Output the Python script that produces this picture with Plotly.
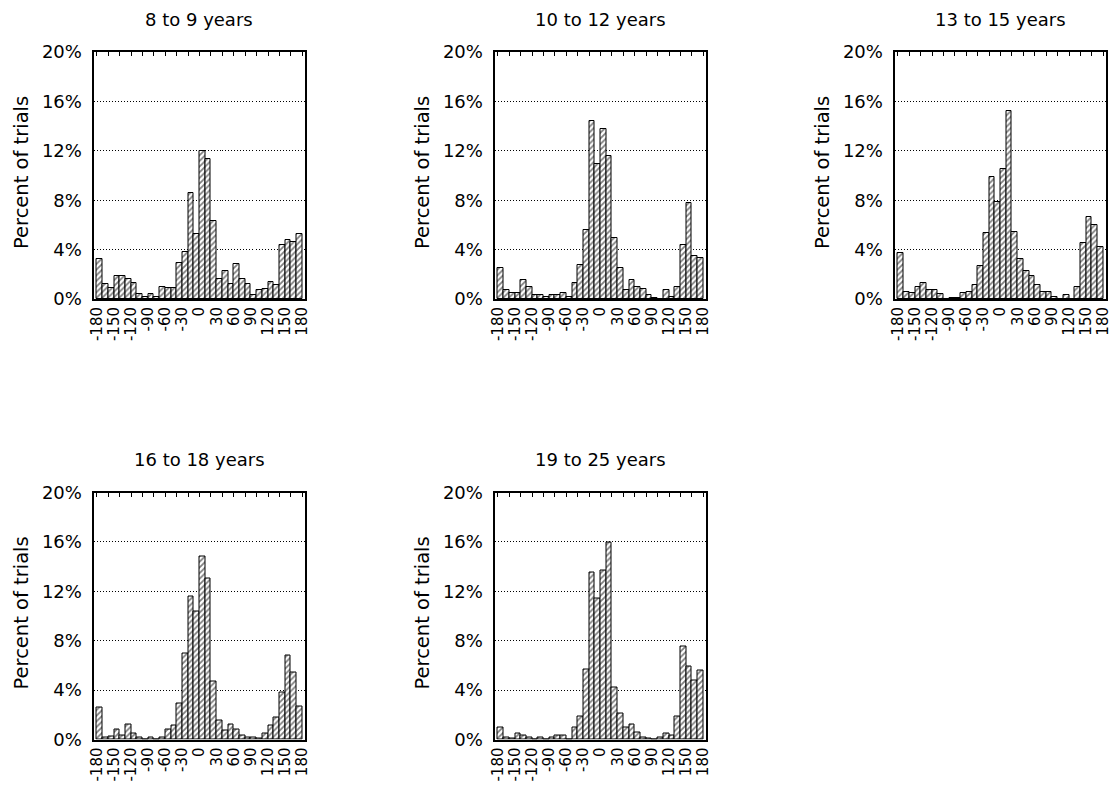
import plotly.graph_objects as go

# Bin centres (10-degree bins from -180 to 180)
bin_centers = [-175 + 10 * i for i in range(36)]
x_tick_vals = [-180, -150, -120, -90, -60, -30, 0, 30, 60, 90, 120, 150, 180]
y_tick_vals = [0, 4, 8, 12, 16, 20]
y_tick_text = ["0%", "4%", "8%", "12%", "16%", "20%"]
top_tick_vals = [-180 + 20 * i for i in range(19)]

panel_titles = ["8 to 9 years", "10 to 12 years", "13 to 15 years",
                "16 to 18 years", "19 to 25 years"]

age_8_9 = [3.2, 1.2, 0.9, 1.9, 1.9, 1.6, 1.3, 0.4, 0.15, 0.4, 0.2, 1.0,
           0.9, 0.9, 2.9, 3.8, 8.6, 5.3, 12.0, 11.35, 6.35, 1.6, 2.3, 1.2,
           2.8, 1.6, 1.2, 0.35, 0.7, 0.8, 1.4, 1.1, 4.4, 4.75, 4.65, 5.3]
age_10_12 = [2.5, 0.7, 0.45, 0.45, 1.5, 0.95, 0.3, 0.3, 0.2, 0.3, 0.3, 0.45,
             0.2, 1.3, 2.75, 5.55, 14.4, 10.95, 13.8, 11.6, 4.95, 2.5, 0.75, 1.5,
             1.0, 0.8, 0.3, 0.1, 0.0, 0.7, 0.2, 0.95, 4.35, 7.75, 3.5, 3.3]
age_13_15 = [3.75, 0.55, 0.45, 1.0, 1.3, 0.7, 0.7, 0.4, 0.0, 0.1, 0.1, 0.45,
             0.55, 1.15, 2.65, 5.35, 9.9, 7.85, 10.5, 15.25, 5.45, 3.25, 2.25, 1.85,
             1.15, 0.55, 0.55, 0.2, 0.0, 0.3, 0.0, 1.0, 4.5, 6.6, 6.0, 4.25]
age_16_18 = [2.6, 0.15, 0.25, 0.85, 0.35, 1.25, 0.5, 0.2, 0.0, 0.2, 0.0, 0.2,
             0.85, 1.1, 2.95, 7.0, 11.6, 10.35, 14.8, 13.05, 4.7, 1.5, 0.75, 1.2,
             0.85, 0.35, 0.2, 0.2, 0.1, 0.5, 1.1, 1.75, 3.8, 6.8, 5.45, 2.7]
age_19_25 = [1.0, 0.2, 0.1, 0.5, 0.35, 0.2, 0.0, 0.2, 0.0, 0.15, 0.35, 0.35,
             0.0, 1.0, 1.85, 5.7, 13.55, 11.45, 13.7, 15.95, 4.2, 2.1, 0.95, 1.25,
             0.6, 0.2, 0.1, 0.0, 0.2, 0.5, 0.35, 1.85, 7.5, 5.95, 4.8, 5.55]

series = [age_8_9, age_10_12, age_13_15, age_16_18, age_19_25]

W, H = 1111, 786
FONT = "DejaVu Sans"


def fx(px):
    return px / W


def fy(py):
    return 1 - py / H


# panel pixel boxes: (left, top)
panel_left = [93.5, 494.5, 894.5, 93.5, 494.5]
panel_top = [52.0, 52.0, 52.0, 492.5, 492.5]
PW, PH = 211.0, 247.0
X_RANGE = [-186, 184]

fig = go.Figure()
layout = dict(
    width=W, height=H,
    margin=dict(l=0, r=0, t=0, b=0, pad=0, autoexpand=False),
    paper_bgcolor="white", plot_bgcolor="white",
    showlegend=False, bargap=0,
    font=dict(family=FONT, color="black"),
)
annotations = []

for i, vals in enumerate(series):
    n = i + 1
    xa = "x" if n == 1 else f"x{n}"
    ya = "y" if n == 1 else f"y{n}"
    top_n = n + 5
    fig.add_trace(go.Bar(
        x=bin_centers, y=vals, width=10,
        xaxis=xa, yaxis=ya,
        marker=dict(color="white",
                    line=dict(color="black", width=1),
                    pattern=dict(shape="/", fgcolor="black", bgcolor="white",
                                 size=4, solidity=0.45)),
        hoverinfo="x+y",
    ))
    # empty trace so the top tick axis is drawn
    fig.add_trace(go.Scatter(x=[], y=[], xaxis=f"x{top_n}", yaxis=ya,
                             mode="markers", hoverinfo="skip"))
    l, t = panel_left[i], panel_top[i]
    xdom = [fx(l), fx(l + PW)]
    ydom = [fy(t + PH), fy(t)]
    layout["xaxis" if n == 1 else f"xaxis{n}"] = dict(
        domain=xdom, anchor=ya, range=X_RANGE,
        tickmode="array", tickvals=x_tick_vals,
        ticktext=[str(v) for v in x_tick_vals],
        tickangle=-90, tickfont=dict(size=15, family=FONT, color="black"),
        ticklabeloverflow="allow",
        ticks="", showgrid=False, zeroline=False, automargin=False,
        showline=True, linecolor="black", linewidth=2, mirror=True,
        fixedrange=True,
    )
    layout[f"xaxis{top_n}"] = dict(
        overlaying=xa, anchor=ya, side="top", range=X_RANGE,
        tickmode="array", tickvals=top_tick_vals, showticklabels=False,
        ticks="inside", ticklen=4, tickwidth=1, tickcolor="black",
        showgrid=False, zeroline=False, showline=False, fixedrange=True,
        automargin=False,
    )
    layout["yaxis" if n == 1 else f"yaxis{n}"] = dict(
        domain=ydom, anchor=xa, range=[0, 20],
        tickmode="array", tickvals=y_tick_vals, ticktext=y_tick_text,
        tickfont=dict(size=18, family=FONT, color="black"),
        ticklabeloverflow="allow",
        ticks="", ticklabelstandoff=6, automargin=False,
        showgrid=True, gridcolor="black", gridwidth=1, griddash="1px,2px",
        zeroline=False,
        showline=True, linecolor="black", linewidth=2, mirror=True,
        fixedrange=True,
    )
    # subplot title
    annotations.append(dict(
        text=panel_titles[i], xref="paper", yref="paper",
        x=fx(l + PW / 2), y=fy(t - 33),
        xanchor="center", yanchor="middle", showarrow=False,
        font=dict(size=18, family=FONT, color="black"),
    ))
    # y-axis title
    annotations.append(dict(
        text="Percent of trials", xref="paper", yref="paper",
        x=fx(l - 72.5), y=fy(t + PH / 2 - 2.5),
        xanchor="center", yanchor="middle", textangle=-90, showarrow=False,
        font=dict(size=19.5, family=FONT, color="black"),
    ))

layout["annotations"] = annotations
fig.update_layout(**layout)
fig.write_html(
    "out.html",
    config={"displayModeBar": False},
    post_script=("document.body.style.margin='0';"
                 "document.documentElement.style.overflow='hidden';"),
)
